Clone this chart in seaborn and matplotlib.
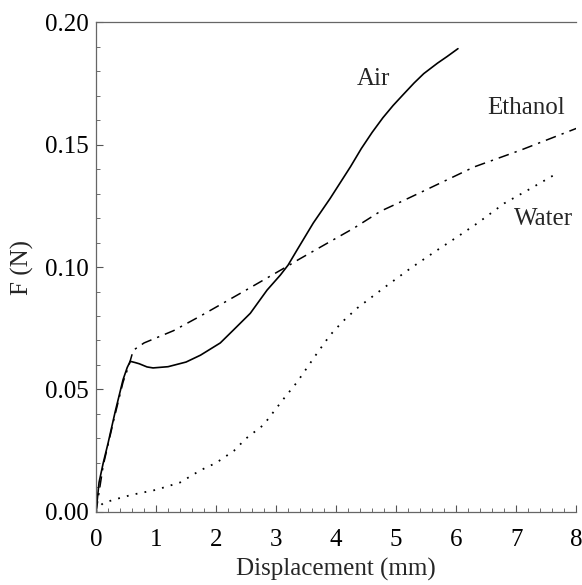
import pandas as pd
import matplotlib
matplotlib.use("Agg")
import matplotlib.pyplot as plt
from matplotlib.ticker import MultipleLocator, FormatStrFormatter
import seaborn as sns

# Force-displacement curves
air_x = [0, 0.05, 0.12, 0.2, 0.32, 0.45, 0.52, 0.57, 0.65, 0.72, 0.85, 0.95, 1.2, 1.5, 1.74, 2.07,
         2.29, 2.57, 2.85, 3.07, 3.2, 3.35, 3.62, 3.9, 4.24, 4.42, 4.6, 4.78, 4.95, 5.12, 5.3, 5.46,
         5.69, 5.85, 6.03]
air_y = [0, 0.012, 0.020, 0.028, 0.041, 0.054, 0.059, 0.0615, 0.061, 0.0605, 0.0592, 0.0588, 0.0593,
         0.0612, 0.064, 0.069, 0.0743, 0.0811, 0.0906, 0.0967, 0.1008, 0.107, 0.118, 0.128, 0.141,
         0.1484, 0.1550, 0.1610, 0.1660, 0.1705, 0.1752, 0.1790, 0.1833, 0.1860, 0.1892]

eth_x = [0, 0.12, 0.3, 0.45, 0.55, 0.62, 0.8, 1.29, 1.74, 2.5, 3.2, 3.37, 3.85, 4.29, 4.74, 5.04,
         5.41, 6.3, 7.08, 8.0]
eth_y = [0, 0.019, 0.038, 0.053, 0.060, 0.066, 0.069, 0.074, 0.080, 0.0906, 0.1005, 0.103, 0.1097,
         0.1158, 0.1228, 0.1262, 0.1305, 0.1409, 0.1478, 0.1566]

wat_x = [0, 0.05, 0.12, 0.3, 0.6, 1.0, 1.4, 1.74, 2.0, 2.3, 2.5, 2.79, 3.12, 3.35, 3.66, 3.9, 4.12,
         4.35, 4.79, 5.24, 5.69, 6.03, 6.36, 6.8, 7.2, 7.66]
wat_y = [0, 0.002, 0.0036, 0.005, 0.007, 0.009, 0.012, 0.017, 0.020, 0.025, 0.030, 0.0355, 0.046,
         0.053, 0.064, 0.0722, 0.078, 0.0832, 0.0914, 0.0995, 0.107, 0.1125, 0.118, 0.126, 0.1315, 0.138]

labels = ["Air", "Ethanol", "Water"]

sns.set_style("ticks")
plt.rcParams["font.family"] = ["Liberation Serif", "DejaVu Serif"]

fig = plt.figure(figsize=(5.82, 5.85), dpi=100)
ax = fig.add_axes([0.165, 0.125, 0.825, 0.837])

sns.lineplot(x=air_x, y=air_y, ax=ax, color="black", lw=1.2, sort=False, linestyle="-")
sns.lineplot(x=eth_x, y=eth_y, ax=ax, color="black", lw=1.1, sort=False, linestyle=(0, (7, 4, 1.5, 4)))
sns.lineplot(x=wat_x, y=wat_y, ax=ax, color="black", lw=1.3, sort=False, linestyle=(0, (1, 4)))

# Curve labels
fs = 18
ax.text(4.63, 0.1767, labels[0], fontsize=fs, ha="center", va="center")
ax.text(7.17, 0.165, labels[1], fontsize=fs, ha="center", va="center")
ax.text(7.45, 0.1196, labels[2], fontsize=fs, ha="center", va="center")

ax.set_xlim(0, 8)
ax.set_ylim(0, 0.2)
ax.xaxis.set_major_locator(MultipleLocator(1))
ax.xaxis.set_minor_locator(MultipleLocator(0.2))
ax.yaxis.set_major_locator(MultipleLocator(0.05))
ax.yaxis.set_minor_locator(MultipleLocator(0.01))
ax.yaxis.set_major_formatter(FormatStrFormatter("%.2f"))
ax.tick_params(which="both", direction="in", colors="#555555", labelcolor="black", labelsize=fs,
               top=False, right=False)
ax.tick_params(which="major", length=5, width=0.8)
ax.tick_params(which="minor", length=3, width=0.6)
ax.tick_params(axis="x", which="major", pad=12)
ax.tick_params(axis="y", which="major", pad=5)

for side in ["left", "bottom", "top"]:
    ax.spines[side].set_color("#666666")
    ax.spines[side].set_linewidth(0.9)
ax.spines["right"].set_visible(False)

ax.set_xlabel("Displacement (mm)", fontsize=fs, labelpad=5)
ax.set_ylabel("F (N)", fontsize=fs, labelpad=8)

fig.savefig("out.png", dpi=100)
